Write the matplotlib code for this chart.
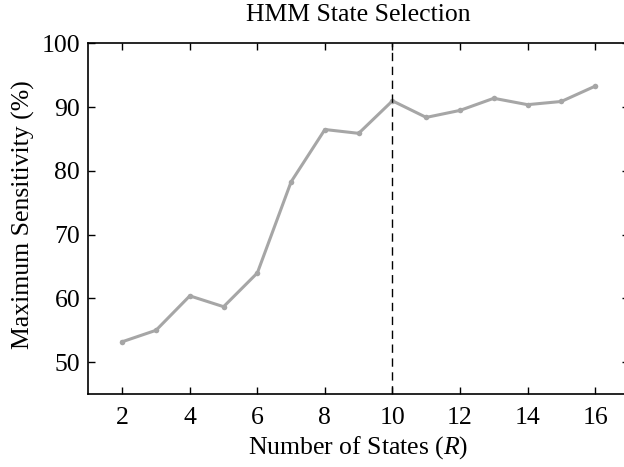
import matplotlib
matplotlib.use('Agg')
import matplotlib.pyplot as plt

# 状態数と最大感度 (%)
states = [2, 3, 4, 5, 6, 7, 8, 9, 10, 11, 12, 13, 14, 15, 16]
sensitivity = [53.2, 55.0, 60.4, 58.7, 64.0, 78.3, 86.5, 85.9, 91.0, 88.4, 89.5, 91.4, 90.4, 90.9, 93.3]
selected_state = 10
x_ticks = [2, 4, 6, 8, 10, 12, 14, 16]
y_ticks = [50, 60, 70, 80, 90, 100]

FS = 18.5

plt.rcParams['font.family'] = ['Liberation Serif', 'DejaVu Serif']
plt.rcParams['mathtext.fontset'] = 'custom'
plt.rcParams['mathtext.it'] = 'Liberation Serif:italic'
plt.rcParams['mathtext.rm'] = 'Liberation Serif'

fig = plt.figure(figsize=(6.24, 4.67), dpi=100)
ax = fig.add_axes([0.1418, 0.1563, 0.866, 0.7506])

ax.plot(states, sensitivity, color='#a6a6a6', linewidth=2.2, marker='o',
        markersize=4, markeredgewidth=0, clip_on=False)
ax.axvline(selected_state, color='black', linewidth=1, linestyle=(0, (6, 4)))

ax.set_xlim(1, 17)
ax.set_ylim(45, 100)
ax.set_xticks(x_ticks)
ax.set_yticks(y_ticks)
ax.tick_params(direction='in', length=5, width=1, top=True, right=True,
               labelsize=FS)
ax.tick_params(axis='x', pad=9.5)
ax.tick_params(axis='y', pad=6)
for sp in ax.spines.values():
    sp.set_linewidth(1.2)

# タイトル・ラベル
fig.text(358 / 624, 1 - 15 / 467, 'HMM State Selection', fontsize=FS,
         ha='center', va='center')
fig.text(358 / 624, 1 - 448 / 467, 'Number of States ($R$)', fontsize=FS,
         ha='center', va='center')
fig.text(23 / 624, 1 - 215 / 467, 'Maximum Sensitivity (%)', fontsize=FS,
         ha='center', va='center', rotation=90)

fig.savefig('out.png', dpi=100)
